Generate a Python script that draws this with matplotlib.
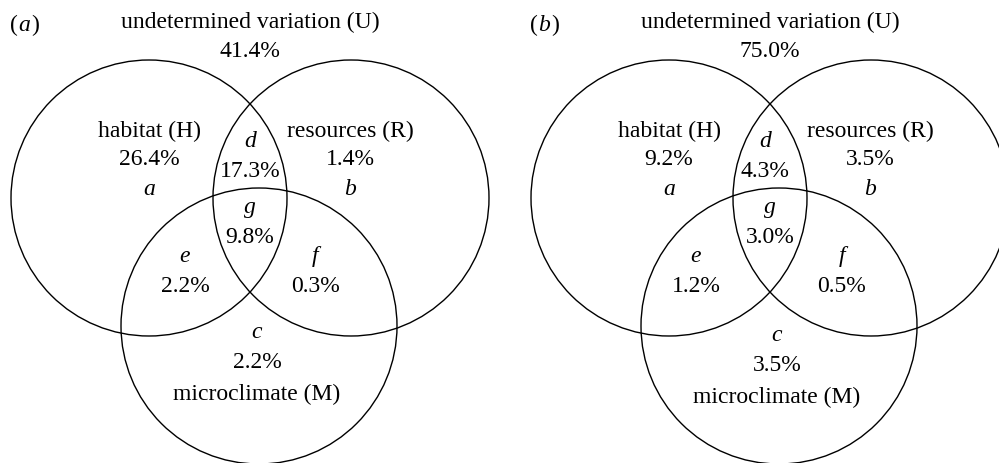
import matplotlib.pyplot as plt
from matplotlib.patches import Circle

plt.rcParams['font.family'] = ['Liberation Serif', 'DejaVu Serif']

panels = ['a', 'b']
undetermined = ['41.4%', '75.0%']
habitat = ['26.4%', '9.2%']
resources = ['1.4%', '3.5%']
microclimate = ['2.2%', '3.5%']
shared_hr = ['17.3%', '4.3%']   # d
shared_all = ['9.8%', '3.0%']   # g
shared_hm = ['2.2%', '1.2%']    # e
shared_rm = ['0.3%', '0.5%']    # f

fig = plt.figure(figsize=(9.99, 4.63), dpi=100)
ax = fig.add_axes([0, 0, 1, 1])
ax.set_xlim(0, 999)
ax.set_ylim(463, 0)
ax.axis('off')

fs = 17
r = 138
# small per-panel nudges of the labels
m_dy = [0, 3]
e_dx = [0, -9]
f_dx = [0, 7]
d_dx = [0, -5]

for i, p in enumerate(panels):
    dx = 520 * i
    for cx, cy in [(149, 198), (351, 198), (259, 326)]:
        ax.add_patch(Circle((cx + dx, cy), r, fill=False, ec='black', lw=1.0))

    def t(x, y, s, italic=False):
        ax.text(x + dx, y, s, ha='center', va='baseline', fontsize=fs,
                style='italic' if italic else 'normal')

    ax.text(10 + dx, 31, '(', ha='left', va='baseline', fontsize=fs)
    ax.text(24 + dx, 31, p, ha='center', va='baseline', fontsize=fs, style='italic')
    ax.text(39 + dx, 31, ')', ha='right', va='baseline', fontsize=fs)

    t(250, 28, 'undetermined variation (U)')
    t(250, 57, undetermined[i])
    t(149, 137, 'habitat (H)')
    t(149, 165, habitat[i])
    t(149, 195, 'a', True)
    t(350, 137, 'resources (R)')
    t(350, 165, resources[i])
    t(350, 195, 'b', True)
    t(250 + d_dx[i], 147, 'd', True)
    t(250 + d_dx[i], 177, shared_hr[i])
    t(250, 213, 'g', True)
    t(250, 243, shared_all[i])
    t(185 + e_dx[i], 262, 'e', True)
    t(185 + e_dx[i], 292, shared_hm[i])
    t(315 + f_dx[i], 262, 'f', True)
    t(315 + f_dx[i], 292, shared_rm[i])
    t(257, 338 + m_dy[i], 'c', True)
    t(257, 368 + m_dy[i], microclimate[i])
    t(257, 400 + m_dy[i], 'microclimate (M)')

fig.savefig('out.png', dpi=100)
